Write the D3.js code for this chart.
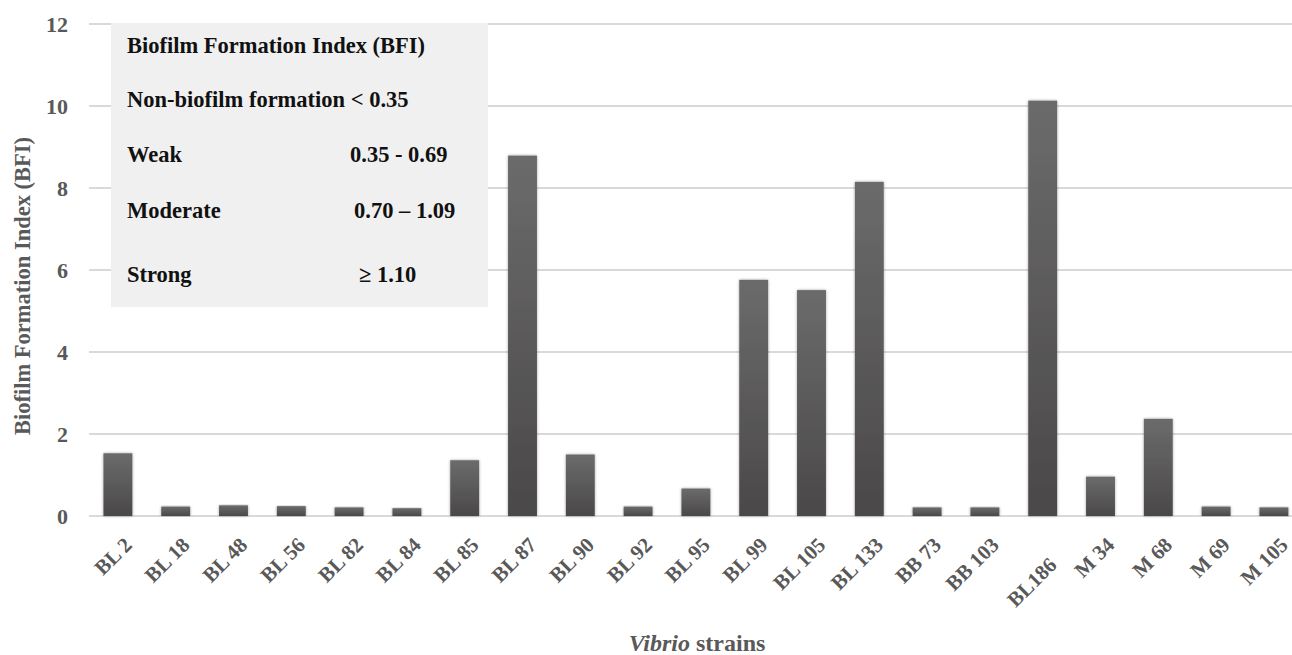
<!DOCTYPE html>
<html>
<head>
<meta charset="utf-8">
<script src="https://cdn.jsdelivr.net/npm/d3@7"></script>
<style>
  body { margin: 0; background: #fff; }
  svg { display: block; font-family: "Liberation Serif", "Times New Roman", serif; font-weight: bold; }
</style>
</head>
<body>
<script>
// strains on the x axis
var strains = ["BL 2", "BL 18", "BL 48", "BL 56", "BL 82", "BL 84", "BL 85", "BL 87",
    "BL 90", "BL 92", "BL 95", "BL 99", "BL 105", "BL 133", "BB 73", "BB 103",
    "BL186", "M 34", "M 68", "M 69", "M 105"];
// biofilm formation index per strain
var bfi = [1.53, 0.23, 0.26, 0.24, 0.21, 0.19, 1.36, 8.79,
    1.50, 0.23, 0.67, 5.76, 5.51, 8.15, 0.21, 0.21,
    10.13, 0.96, 2.37, 0.23, 0.21];
var yTicks = [0, 2, 4, 6, 8, 10, 12];
// legend box rows: label, value
var legendLabels = ["Biofilm Formation Index (BFI)", "Non-biofilm formation < 0.35", "Weak", "Moderate", "Strong"];
var legendValues = ["", "", "0.35 - 0.69", "0.70 \u2013 1.09", "\u2265 1.10"];

var w = 1292;
var h = 655;
var plotLeft = 89, plotTop = 24, plotBottom = 516;
var step = 57.8;

var data = strains.map(function(s, i) { return { name: s, v: bfi[i] }; });

var svg = d3.select("body").append("svg")
    .attr("width", w)
    .attr("height", h);

var defs = svg.append("defs");
var grad = defs.append("linearGradient")
    .attr("id", "barGrad")
    .attr("x1", 0).attr("y1", 0).attr("x2", 0).attr("y2", 1);
grad.append("stop").attr("offset", "0%").attr("stop-color", "#6b6b6b");
grad.append("stop").attr("offset", "100%").attr("stop-color", "#4a4848");

var shadow = defs.append("filter").attr("id", "shadow")
    .attr("x", "-30%").attr("y", "-10%").attr("width", "160%").attr("height", "120%");
shadow.append("feGaussianBlur").attr("in", "SourceAlpha").attr("stdDeviation", 1.6).attr("result", "b");
shadow.append("feComponentTransfer").attr("in", "b").attr("result", "b2")
    .append("feFuncA").attr("type", "linear").attr("slope", 0.35);
var merge = shadow.append("feMerge");
merge.append("feMergeNode").attr("in", "b2");
merge.append("feMergeNode").attr("in", "SourceGraphic");

var xScale = d3.scaleBand()
    .domain(strains)
    .range([plotLeft, plotLeft + step * 21])
    .paddingInner(0.5)
    .paddingOuter(0.25);

var yScale = d3.scaleLinear()
    .domain([0, 12])
    .range([plotBottom, plotTop]);

// gridlines
svg.append("g")
    .selectAll("line")
    .data(yTicks)
    .enter()
    .append("line")
    .attr("x1", plotLeft)
    .attr("x2", w)
    .attr("y1", function(d) { return yScale(d); })
    .attr("y2", function(d) { return yScale(d); })
    .attr("stroke", "#d9d9d9")
    .attr("stroke-width", 2);

// y axis labels
var yAxis = d3.axisLeft(yScale)
    .tickValues(yTicks)
    .tickSize(0)
    .tickPadding(21);

svg.append("g")
    .attr("class", "y axis")
    .attr("transform", "translate(" + plotLeft + ",0)")
    .call(yAxis)
    .call(function(g) { g.select(".domain").remove(); })
    .selectAll("text")
    .attr("font-family", "Liberation Serif")
    .attr("font-weight", "bold")
    .attr("font-size", "22px")
    .attr("fill", "#595959");

// legend box
var legend = svg.append("g");
legend.append("rect")
    .attr("x", 111)
    .attr("y", 23)
    .attr("width", 377)
    .attr("height", 284)
    .attr("fill", "#f0f0f0");

var rowY = [53, 107, 162, 218, 282];
legend.selectAll("text.lab")
    .data(legendLabels)
    .enter()
    .append("text")
    .attr("class", "lab")
    .attr("x", 127)
    .attr("y", function(d, i) { return rowY[i]; })
    .attr("font-size", "22.5px")
    .attr("fill", "#111")
    .text(function(d) { return d; });

var valX = [0, 0, 350, 354, 359];
legend.selectAll("text.val")
    .data(legendValues)
    .enter()
    .append("text")
    .attr("class", "val")
    .attr("x", function(d, i) { return valX[i]; })
    .attr("y", function(d, i) { return rowY[i]; })
    .attr("font-size", "22.5px")
    .attr("fill", "#111")
    .text(function(d) { return d; });

// bars
svg.append("g")
    .selectAll("rect")
    .data(data)
    .enter()
    .append("rect")
    .attr("x", function(d) { return xScale(d.name); })
    .attr("y", function(d) { return yScale(d.v); })
    .attr("width", xScale.bandwidth())
    .attr("height", function(d) { return plotBottom - yScale(d.v); })
    .attr("fill", "url(#barGrad)")
    .attr("filter", "url(#shadow)");

// x axis labels, rotated
var xAxis = d3.axisBottom(xScale)
    .tickSize(0)
    .tickPadding(0);

svg.append("g")
    .attr("class", "x axis")
    .attr("transform", "translate(0," + plotBottom + ")")
    .call(xAxis)
    .call(function(g) { g.select(".domain").remove(); })
    .selectAll("text")
    .attr("font-family", "Liberation Serif")
    .attr("font-weight", "bold")
    .attr("font-size", "21px")
    .attr("fill", "#595959")
    .attr("text-anchor", "end")
    .attr("dy", "0.35em")
    // the BL186 label sits lower in the original
    .attr("transform", function(d) {
        return d === "BL186" ? "translate(10,45) rotate(-45)" : "translate(10,25) rotate(-45)";
    });

// Y axis title
svg.append("text")
    .attr("text-anchor", "middle")
    .attr("transform", "rotate(-90)")
    .attr("x", -286)
    .attr("y", 30)
    .attr("font-size", "22.5px")
    .attr("fill", "#595959")
    .text("Biofilm Formation Index (BFI)");

// X axis title
var xt = svg.append("text")
    .attr("text-anchor", "middle")
    .attr("x", 697)
    .attr("y", 651)
    .attr("font-size", "24px")
    .attr("fill", "#595959");
xt.append("tspan").attr("font-style", "italic").text("Vibrio");
xt.append("tspan").text(" strains");
</script>
</body>
</html>
